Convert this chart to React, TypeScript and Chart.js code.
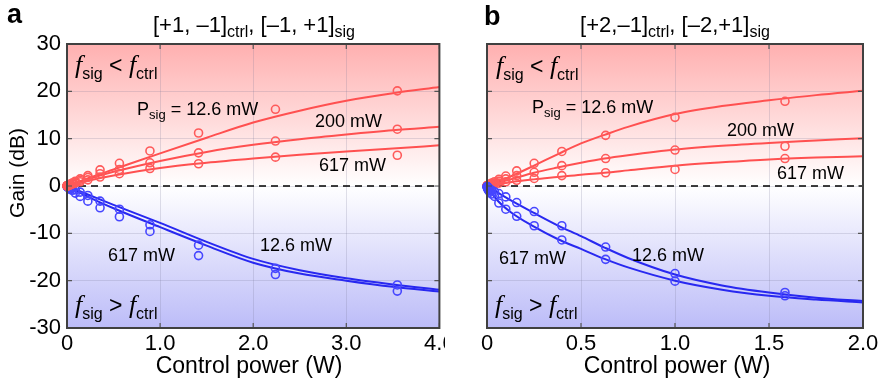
import React, { useEffect, useRef } from "react";
import { Chart, registerables } from "chart.js";
Chart.register(...registerables);

const SANS = '"Liberation Sans", Arial, sans-serif';
const SERIF = '"Liberation Serif", "DejaVu Serif", serif';

// ---------- Panel a data ----------
const xA = [0.0014, 0.0022, 0.0036, 0.0056, 0.0089, 0.014, 0.022, 0.035, 0.056, 0.089, 0.141, 0.224, 0.355, 0.563, 0.891, 1.413, 2.239, 3.548];
const redA126 = [0.02, 0.03, 0.05, 0.08, 0.12, 0.18, 0.27, 0.4, 0.6, 1.0, 1.5, 2.2, 3.4, 4.8, 7.4, 11.2, 16.2, 20.1];
const redA200 = [0.01, 0.02, 0.04, 0.06, 0.09, 0.14, 0.2, 0.3, 0.5, 0.8, 1.2, 1.8, 2.6, 3.5, 4.9, 7.0, 9.5, 12.0];
const redA617 = [0.01, 0.02, 0.03, 0.04, 0.07, 0.1, 0.15, 0.25, 0.4, 0.6, 0.9, 1.3, 1.9, 2.6, 3.7, 4.7, 6.1, 6.5];
const blueA126 = [-0.02, -0.03, -0.05, -0.08, -0.12, -0.18, -0.28, -0.4, -0.5, -0.8, -1.3, -2.0, -3.2, -4.9, -8.2, -12.5, -17.4, -20.9];
const blueA617 = [-0.03, -0.05, -0.08, -0.12, -0.2, -0.3, -0.5, -0.7, -0.9, -1.5, -2.2, -3.2, -4.6, -6.5, -9.6, -14.7, -18.7, -22.2];

const fitXA = [0, 0.25, 0.5, 1.0, 1.5, 2.0, 2.5, 3.0, 3.5, 4.0];
const fitRedA126 = [0, 1.8, 3.5, 6.9, 10.2, 13.4, 15.9, 18.0, 19.6, 20.9];
const fitRedA200 = [0, 1.6, 3.0, 5.3, 7.2, 8.7, 9.9, 10.9, 11.8, 12.5];
const fitRedA617 = [0, 1.2, 2.2, 3.8, 4.9, 5.8, 6.6, 7.3, 7.9, 8.6];
const fitBlueA126 = [0, -2.0, -4.0, -7.8, -11.8, -15.4, -17.8, -19.5, -20.8, -21.9];
const fitBlueA617 = [0, -2.5, -4.7, -8.7, -12.6, -16.2, -18.5, -20.0, -21.3, -22.3];

// ---------- Panel b data ----------
const xB = [0.001, 0.0016, 0.0025, 0.004, 0.0063, 0.01, 0.016, 0.025, 0.04, 0.063, 0.1, 0.158, 0.251, 0.398, 0.631, 1.0, 1.585];
const redB126 = [0.03, 0.05, 0.08, 0.12, 0.18, 0.28, 0.4, 0.6, 0.9, 1.4, 2.1, 3.2, 4.8, 7.3, 10.7, 14.5, 17.9];
const redB200 = [0.02, 0.03, 0.05, 0.08, 0.12, 0.18, 0.27, 0.4, 0.6, 1.0, 1.5, 2.2, 2.9, 4.3, 5.8, 7.6, 8.4];
const redB617 = [0.01, 0.02, 0.03, 0.05, 0.07, 0.1, 0.15, 0.25, 0.4, 0.6, 0.9, 1.2, 1.6, 2.2, 2.8, 3.5, 5.8];
const blueB126 = [-0.1, -0.15, -0.2, -0.3, -0.4, -0.5, -0.7, -0.9, -1.2, -1.6, -2.3, -3.5, -5.4, -8.4, -12.9, -18.5, -22.5];
const blueB617 = [-0.2, -0.3, -0.4, -0.6, -0.8, -1.0, -1.3, -1.7, -2.2, -3.6, -4.9, -6.4, -8.4, -11.4, -15.5, -20.1, -23.2];

const fitXB = [0, 0.05, 0.125, 0.25, 0.375, 0.5, 0.625, 0.75, 1.0, 1.25, 1.5, 1.75, 2.0];
const fitRedB126 = [0, 0.8, 2.0, 4.3, 6.7, 9.0, 10.8, 12.5, 15.2, 16.9, 18.1, 19.2, 20.1];
const fitRedB200 = [0, 0.6, 1.4, 2.8, 3.9, 4.9, 5.8, 6.5, 7.7, 8.5, 9.1, 9.6, 10.1];
const fitRedB617 = [0, 0.3, 0.8, 1.4, 1.9, 2.4, 2.8, 3.3, 4.3, 5.0, 5.6, 6.0, 6.3];
const fitBlueB126 = [0, -1.2, -3.0, -5.7, -8.3, -10.6, -13.0, -15.2, -18.7, -21.0, -22.5, -23.6, -24.3];
const fitBlueB617 = [0, -2.8, -5.5, -8.6, -11.2, -13.3, -15.4, -17.2, -20.0, -21.9, -23.2, -24.0, -24.6];

const yTicks = [-30, -20, -10, 0, 10, 20, 30];

const RED_LINE = "rgb(255,80,80)";
const RED_PT = "rgb(255,90,90)";
const BLUE_LINE = "rgb(40,40,240)";
const BLUE_PT = "rgb(70,70,255)";

type Seg = { t: string; sub?: boolean; it?: boolean; bold?: boolean };
type TextItem = { segs: Seg[]; x: number; y: number; size: number; align?: "left" | "center"; rot?: boolean; subSize?: number };

function fontFor(s: Seg, size: number, subSize: number) {
  if (s.it) return `italic ${size + 3}px ${SERIF}`;
  return `${s.bold ? "bold " : ""}${s.sub ? subSize : size}px ${SANS}`;
}

function drawRich(ctx: CanvasRenderingContext2D, item: TextItem) {
  const subSize = item.subSize ?? Math.round(item.size * 0.68);
  let w = 0;
  for (const s of item.segs) {
    ctx.font = fontFor(s, item.size, subSize);
    w += ctx.measureText(s.t).width;
  }
  ctx.save();
  ctx.fillStyle = "#000";
  ctx.textBaseline = "alphabetic";
  ctx.textAlign = "left";
  ctx.translate(item.x, item.y);
  if (item.rot) ctx.rotate(-Math.PI / 2);
  let cx = item.align === "center" ? -w / 2 : 0;
  for (const s of item.segs) {
    ctx.font = fontFor(s, item.size, subSize);
    ctx.fillText(s.t, cx, s.sub ? item.size * 0.24 : 0);
    cx += ctx.measureText(s.t).width;
  }
  ctx.restore();
}

type PanelSpec = {
  width: number;
  yAxisW: number;
  padRight: number;
  showY: boolean;
  xMax: number;
  xStep: number;
  xPts: number[];
  pts: { ys: number[]; color: string; order: number }[];
  fitX: number[];
  fits: { ys: number[]; color: string; order: number }[];
  texts: TextItem[];
};

const fLess = (x: number, y: number): TextItem => ({
  segs: [{ t: "f", it: true }, { t: "sig", sub: true }, { t: " < " }, { t: "f", it: true }, { t: "ctrl", sub: true }],
  x, y, size: 23, subSize: 16,
});
const fMore = (x: number, y: number): TextItem => ({
  segs: [{ t: "f", it: true }, { t: "sig", sub: true }, { t: " > " }, { t: "f", it: true }, { t: "ctrl", sub: true }],
  x, y, size: 23, subSize: 16,
});

const panelA: PanelSpec = {
  width: 445,
  yAxisW: 67,
  padRight: 5,
  showY: true,
  xMax: 4,
  xStep: 1,
  xPts: xA,
  pts: [
    { ys: redA126, color: RED_PT, order: 1 },
    { ys: redA200, color: RED_PT, order: 1 },
    { ys: redA617, color: RED_PT, order: 1 },
    { ys: blueA126, color: BLUE_PT, order: 3 },
    { ys: blueA617, color: BLUE_PT, order: 3 },
  ],
  fitX: fitXA,
  fits: [
    { ys: fitRedA126, color: RED_LINE, order: 2 },
    { ys: fitRedA200, color: RED_LINE, order: 2 },
    { ys: fitRedA617, color: RED_LINE, order: 2 },
    { ys: fitBlueA126, color: BLUE_LINE, order: 4 },
    { ys: fitBlueA617, color: BLUE_LINE, order: 4 },
  ],
  texts: [
    { segs: [{ t: "a", bold: true }], x: 7, y: 23, size: 27 },
    { segs: [{ t: "[+1, –1]" }, { t: "ctrl", sub: true }, { t: ", [–1, +1]" }, { t: "sig", sub: true }], x: 254, y: 32, size: 22, subSize: 16, align: "center" },
    fLess(75, 73),
    { segs: [{ t: "P" }, { t: "sig", sub: true }, { t: " = 12.6 mW" }], x: 137, y: 115, size: 18, subSize: 13 },
    { segs: [{ t: "200 mW" }], x: 315, y: 127, size: 18 },
    { segs: [{ t: "617 mW" }], x: 319, y: 171, size: 18 },
    { segs: [{ t: "617 mW" }], x: 108, y: 261, size: 18 },
    { segs: [{ t: "12.6 mW" }], x: 260, y: 251, size: 18 },
    fMore(75, 313),
    { segs: [{ t: "Gain (dB)" }], x: 24, y: 173, size: 21, align: "center", rot: true },
    { segs: [{ t: "Control power (W)" }], x: 249, y: 373, size: 23, align: "center" },
  ],
};

const panelB: PanelSpec = {
  width: 439,
  yAxisW: 47,
  padRight: 16,
  showY: false,
  xMax: 2,
  xStep: 0.5,
  xPts: xB,
  pts: [
    { ys: redB126, color: RED_PT, order: 3 },
    { ys: redB200, color: RED_PT, order: 3 },
    { ys: redB617, color: RED_PT, order: 3 },
    { ys: blueB126, color: BLUE_PT, order: 1 },
    { ys: blueB617, color: BLUE_PT, order: 1 },
  ],
  fitX: fitXB,
  fits: [
    { ys: fitRedB126, color: RED_LINE, order: 4 },
    { ys: fitRedB200, color: RED_LINE, order: 4 },
    { ys: fitRedB617, color: RED_LINE, order: 4 },
    { ys: fitBlueB126, color: BLUE_LINE, order: 2 },
    { ys: fitBlueB617, color: BLUE_LINE, order: 2 },
  ],
  texts: [
    { segs: [{ t: "b", bold: true }], x: 44, y: 25, size: 27 },
    { segs: [{ t: "[+2,–1]" }, { t: "ctrl", sub: true }, { t: ", [–2,+1]" }, { t: "sig", sub: true }], x: 235, y: 32, size: 22, subSize: 16, align: "center" },
    fLess(56, 74),
    { segs: [{ t: "P" }, { t: "sig", sub: true }, { t: " = 12.6 mW" }], x: 92, y: 113, size: 18, subSize: 13 },
    { segs: [{ t: "200 mW" }], x: 287, y: 136, size: 18 },
    { segs: [{ t: "617 mW" }], x: 337, y: 179, size: 18 },
    { segs: [{ t: "617 mW" }], x: 59, y: 264, size: 18 },
    { segs: [{ t: "12.6 mW" }], x: 192, y: 261, size: 18 },
    fMore(55, 313),
    { segs: [{ t: "Control power (W)" }], x: 237, y: 373, size: 23, align: "center" },
  ],
};

function makePlugin(p: PanelSpec) {
  return {
    id: "panelDecor",
    beforeDraw(chart: any) {
      const { ctx, chartArea } = chart;
      const { left, top, right, bottom } = chartArea;
      const y0 = chart.scales.y.getPixelForValue(0);
      const g = ctx.createLinearGradient(0, top, 0, bottom);
      g.addColorStop(0, "rgb(255,176,176)");
      g.addColorStop((y0 - top) / (bottom - top), "rgb(255,255,255)");
      g.addColorStop(1, "rgb(188,188,248)");
      ctx.save();
      ctx.fillStyle = g;
      ctx.fillRect(left, top, right - left, bottom - top);
      ctx.restore();
    },
    beforeDatasetsDraw(chart: any) {
      const { ctx, chartArea } = chart;
      const y0 = chart.scales.y.getPixelForValue(0);
      ctx.save();
      ctx.strokeStyle = "#000";
      ctx.lineWidth = 1.6;
      ctx.setLineDash([7, 5]);
      ctx.beginPath();
      ctx.moveTo(chartArea.left, y0);
      ctx.lineTo(chartArea.right, y0);
      ctx.stroke();
      ctx.restore();
    },
    afterDraw(chart: any) {
      const { ctx, chartArea } = chart;
      const { left, top, right, bottom } = chartArea;
      ctx.save();
      ctx.strokeStyle = "#555";
      ctx.lineWidth = 1.2;
      const tl = 5;
      ctx.beginPath();
      for (const v of yTicks) {
        const py = chart.scales.y.getPixelForValue(v);
        ctx.moveTo(left, py);
        ctx.lineTo(left + tl, py);
        ctx.moveTo(right, py);
        ctx.lineTo(right - tl, py);
      }
      for (const t of chart.scales.x.ticks) {
        const px = chart.scales.x.getPixelForValue(t.value);
        ctx.moveTo(px, bottom);
        ctx.lineTo(px, bottom - tl);
        ctx.moveTo(px, top);
        ctx.lineTo(px, top + tl);
      }
      ctx.stroke();
      ctx.strokeStyle = "#404040";
      ctx.lineWidth = 2;
      ctx.strokeRect(left, top, right - left, bottom - top);
      ctx.restore();
      for (const t of p.texts) drawRich(ctx, t);
    },
  };
}

function buildConfig(p: PanelSpec): any {
  const datasets: any[] = [];
  p.fits.forEach((f) => {
    datasets.push({
      data: p.fitX.map((x, i) => ({ x, y: f.ys[i] })),
      showLine: true,
      borderColor: f.color,
      borderWidth: 2,
      pointRadius: 0,
      cubicInterpolationMode: "monotone",
      fill: false,
      order: f.order,
    });
  });
  p.pts.forEach((s) => {
    datasets.push({
      data: p.xPts.map((x, i) => ({ x, y: s.ys[i] })),
      showLine: false,
      pointStyle: "circle",
      pointRadius: 4,
      pointBorderWidth: 1.6,
      borderColor: s.color,
      backgroundColor: "rgba(0,0,0,0)",
      clip: false,
      order: s.order,
    });
  });
  const gridColor = "rgba(120,120,150,0.22)";
  return {
    type: "scatter",
    data: { datasets },
    options: {
      animation: false,
      responsive: false,
      devicePixelRatio: 1,
      layout: { padding: { left: 0, right: p.padRight, top: 44, bottom: 0 } },
      plugins: { legend: { display: false }, tooltip: { enabled: false }, title: { display: false } },
      scales: {
        x: {
          type: "linear",
          min: 0,
          max: p.xMax,
          ticks: {
            stepSize: p.xStep,
            autoSkip: false,
            maxRotation: 0,
            padding: 3,
            color: "#000",
            font: { size: 22, family: SANS },
            callback: (v: number) => (v === 0 ? "0" : Number(v).toFixed(1)),
          },
          grid: { color: gridColor, lineWidth: 1, drawTicks: false },
          border: { display: false },
          afterFit: (s: any) => {
            s.height = 56;
            s.paddingLeft = 0;
            s.paddingRight = 0;
          },
        },
        y: {
          type: "linear",
          min: -30,
          max: 30,
          ticks: {
            stepSize: 10,
            display: p.showY,
            padding: 6,
            color: "#000",
            font: { size: 22, family: SANS },
          },
          grid: { color: gridColor, lineWidth: 1, drawTicks: false },
          border: { display: false },
          afterFit: (s: any) => {
            s.width = p.yAxisW;
            s.paddingTop = 0;
            s.paddingBottom = 0;
          },
        },
      },
    },
    plugins: [makePlugin(p)],
  };
}

function Panel({ spec, left }: { spec: PanelSpec; left: number }) {
  const ref = useRef<HTMLCanvasElement | null>(null);
  useEffect(() => {
    if (!ref.current) return;
    const chart = new Chart(ref.current, buildConfig(spec));
    return () => chart.destroy();
  }, [spec]);
  return (
    <canvas
      ref={ref}
      width={spec.width}
      height={384}
      style={{ position: "absolute", left, top: 0, width: spec.width, height: 384 }}
    />
  );
}

export default function App() {
  return (
    <div style={{ position: "fixed", left: 0, top: 0, width: 879, height: 384, background: "#fff", overflow: "hidden" }}>
      <Panel spec={panelA} left={0} />
      <Panel spec={panelB} left={440} />
    </div>
  );
}
